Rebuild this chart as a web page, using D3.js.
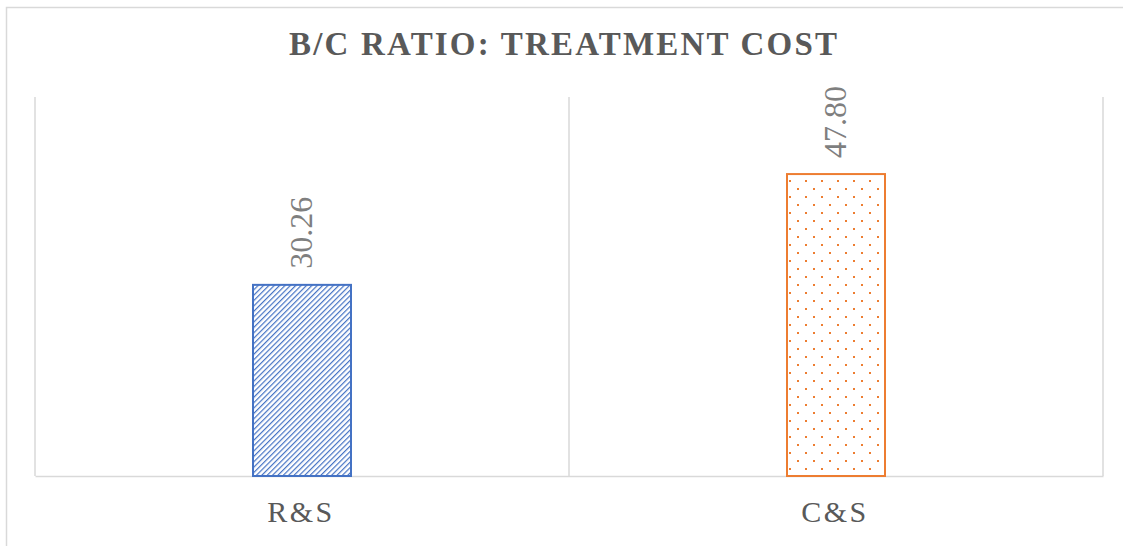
<!DOCTYPE html>
<html>
<head>
<meta charset="utf-8">
<script src="https://cdn.jsdelivr.net/npm/d3@7"></script>
<style>
  html, body { margin: 0; padding: 0; background: #fff; }
  svg { display: block; }
</style>
</head>
<body>
<svg id="chart" width="1123" height="546"></svg>
<script>
// B/C ratio by treatment cost scenario
const categories = ["R&S", "C&S"];
const ratios = [30.26, 47.80];
const yTicks = [0, 10, 20, 30, 40, 50, 60];
const chartTitle = "B/C RATIO: TREATMENT COST";

const svg = d3.select("#chart");
const plot = { left: 35, right: 1103, top: 97, bottom: 476 };
const serif = "Liberation Serif, Times New Roman, serif";

// patterns for the two bars
const defs = svg.append("defs");
const hatch = defs.append("pattern")
  .attr("id", "hatchBlue")
  .attr("patternUnits", "userSpaceOnUse")
  .attr("width", 3.8).attr("height", 3.8)
  .attr("patternTransform", "rotate(45)");
hatch.append("rect").attr("width", 3.8).attr("height", 3.8).attr("fill", "#fff");
hatch.append("line")
  .attr("x1", 0).attr("y1", 0).attr("x2", 0).attr("y2", 3.8)
  .attr("stroke", "#4472C4").attr("stroke-width", 2.4);

const dots = defs.append("pattern")
  .attr("id", "dotsOrange")
  .attr("patternUnits", "userSpaceOnUse")
  .attr("x", 789).attr("y", 180)
  .attr("width", 16).attr("height", 16);
dots.append("rect").attr("width", 16).attr("height", 16).attr("fill", "#fff");
dots.append("rect").attr("x", 0).attr("y", 0).attr("width", 2).attr("height", 2).attr("fill", "#ED7D31");
dots.append("rect").attr("x", 8).attr("y", 8).attr("width", 2).attr("height", 2).attr("fill", "#ED7D31");

// outer chart frame
svg.append("rect")
  .attr("x", 6.5).attr("y", 7.5)
  .attr("width", 1140).attr("height", 560)
  .attr("fill", "#fff")
  .attr("stroke", "#d9d9d9").attr("stroke-width", 1.5);

// scales
const x = d3.scaleBand().domain(categories).range([plot.left, plot.right]).paddingInner(0).paddingOuter(0);
const y = d3.scaleLinear().domain([yTicks[0], yTicks[yTicks.length - 1]]).range([plot.bottom, plot.top]);

// vertical separators at category boundaries
const bounds = categories.map(c => x(c)).concat([x(categories[categories.length - 1]) + x.bandwidth()]);
svg.append("g").selectAll("line").data(bounds).join("line")
  .attr("x1", d => d).attr("x2", d => d)
  .attr("y1", plot.top).attr("y2", plot.bottom)
  .attr("stroke", "#d9d9d9").attr("stroke-width", 1.5);

// category axis
const xAxis = svg.append("g")
  .attr("transform", `translate(0,${plot.bottom})`)
  .call(d3.axisBottom(x).tickSize(0).tickPadding(0));
xAxis.select(".domain").attr("stroke", "#d9d9d9").attr("stroke-width", 1.5);
xAxis.selectAll(".tick text")
  .attr("x", -1)
  .attr("y", 46)
  .attr("dy", 0)
  .attr("font-family", serif)
  .attr("font-size", 30)
  .attr("fill", "#595959")
  .attr("letter-spacing", "2.5px");

// bars
const barW = 98;
const fills = ["url(#hatchBlue)", "url(#dotsOrange)"];
const strokes = ["#4472C4", "#ED7D31"];
svg.append("g").selectAll("rect").data(categories).join("rect")
  .attr("x", d => x(d) + x.bandwidth() / 2 - barW / 2)
  .attr("y", (d, i) => y(ratios[i]))
  .attr("width", barW)
  .attr("height", (d, i) => y(0) - y(ratios[i]))
  .attr("fill", (d, i) => fills[i])
  .attr("stroke", (d, i) => strokes[i])
  .attr("stroke-width", 2);

// value labels, rotated
svg.append("g").selectAll("text").data(categories).join("text")
  .attr("transform", (d, i) => `translate(${x(d) + x.bandwidth() / 2 + 10},${y(ratios[i]) - 16}) rotate(-90)`)
  .attr("text-anchor", "start")
  .attr("font-family", serif)
  .attr("font-size", 32)
  .attr("fill", "#7f7f7f")
  .text((d, i) => ratios[i].toFixed(2));

// title
svg.append("text")
  .attr("transform", "translate(563,55)")
  .attr("text-anchor", "middle")
  .attr("font-family", serif)
  .attr("font-weight", "bold")
  .attr("font-size", 33)
  .attr("fill", "#595959")
  .attr("textLength", 548)
  .attr("lengthAdjust", "spacing")
  .text(chartTitle);
</script>
</body>
</html>
